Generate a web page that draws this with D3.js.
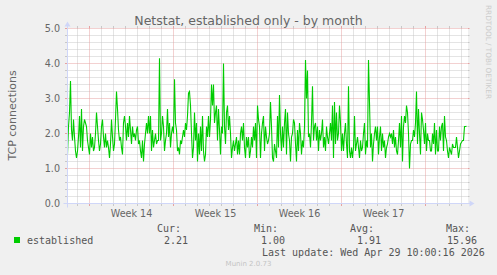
<!DOCTYPE html>
<html><head><meta charset="utf-8">
<script src="https://cdn.jsdelivr.net/npm/d3@7/dist/d3.min.js"></script>
<style>html,body{margin:0;padding:0;background:#f0f0f0;}svg{display:block;}</style>
</head><body><svg id="c" width="497" height="275"></svg>
<script>
// one value per 2 hours (one value per pixel in the original)
const established = [
1.4,2.2,2.6,3.5,2.1,1.8,2.4,1.9,1.5,1.3,
1.5,1.9,2.5,1.6,2.7,1.5,2.2,2.4,2.3,2.2,
1.8,1.6,1.4,2.0,1.6,1.9,1.5,1.6,2.0,2.6,
2.2,1.8,1.5,1.7,2.2,2.4,1.9,1.6,2.0,1.6,
1.8,1.6,1.3,1.7,2.4,1.9,1.5,1.7,2.4,3.2,
2.7,2.1,1.8,1.9,1.6,1.4,2.3,2.5,2.2,1.8,
2.3,1.9,2.5,2.1,1.7,2.2,1.9,
2.0,1.8,2.1,2.2,1.7,1.8,1.5,1.3,1.8,1.2,
1.7,2.0,2.3,2.0,2.5,2.0,2.5,1.5,2.1,1.6,
1.8,2.0,1.7,1.8,1.8,4.15,1.8,2.0,2.5,2.2,
1.5,1.8,2.0,2.7,1.9,2.3,1.6,2.0,2.2,2.0,
3.55,2.3,2.1,1.5,1.6,1.4,1.8,1.7,1.9,2.1,
1.9,2.3,2.1,2.5,3.15,3.2,2.8,2.0,1.3,1.6,
2.6,1.8,2.3,1.2,2.0,1.4,2.2,1.5,2.5,
1.5,1.2,1.4,2.2,1.9,2.5,1.9,2.4,3.4,2.8,
3.4,2.3,2.6,2.8,1.8,2.7,2.1,1.4,2.2,2.0,
4.0,2.2,1.7,2.6,2.8,2.1,2.5,2.0,1.3,1.6,
1.8,1.5,1.7,1.9,1.4,1.8,1.4,2.0,2.2,1.8,
2.3,1.6,1.3,1.9,1.6,1.9,1.3,1.5,1.9,1.6,
2.2,1.8,2.3,1.3,2.8,2.4,2.2,1.3,2.0,2.3,
2.5,1.5,2.2,1.9,1.7,1.8,2.0,2.9,2.2,
1.3,1.2,1.7,1.5,1.3,2.5,1.6,3.1,2.0,1.5,
2.2,1.6,2.3,2.7,1.4,2.6,2.0,1.8,1.2,1.9,
2.0,2.4,2.3,1.7,1.2,2.1,1.5,2.3,2.0,1.4,
1.8,1.6,2.2,4.1,3.0,3.8,1.9,2.0,1.6,2.3,
3.35,1.8,2.2,2.3,1.8,2.2,1.5,2.1,1.8,2.0,
2.4,1.6,1.9,1.5,2.2,1.9,1.7,2.0,2.3,1.8,
2.8,1.3,2.9,1.7,2.6,1.8,2.0,2.8,2.3,
1.5,2.0,1.5,2.0,2.3,1.7,1.3,3.35,1.5,1.3,
1.6,1.3,1.6,2.5,1.5,1.7,1.9,1.6,1.3,1.8,
1.5,1.6,2.0,2.3,1.4,1.8,1.6,4.1,2.9,1.6,
2.0,1.2,1.7,2.0,2.2,1.8,2.2,1.4,1.9,2.2,
1.5,2.0,1.6,1.8,1.3,1.6,1.7,1.9,2.0,1.9,
2.0,1.7,2.1,1.6,1.9,1.5,1.4,1.8,2.3,1.6,
2.5,1.2,2.2,2.5,2.3,2.8,2.6,2.0,1.0,
1.7,1.8,1.8,2.1,1.9,2.3,3.2,1.7,2.7,2.0,
1.4,2.6,2.4,2.1,1.7,2.3,1.5,2.0,1.8,1.8,
1.5,1.5,2.0,1.7,2.3,1.4,2.1,1.5,1.5,2.2,
1.8,2.2,2.3,1.5,2.5,1.9,1.8,1.5,1.3,1.6,
1.5,1.4,1.7,1.6,1.6,1.6,1.9,1.6,1.3,1.5,
1.7,1.75,1.8,1.8,2.2,2.2,2.21
];
const yTicks = [0, 1, 2, 3, 4, 5];
const yMinorStep = 0.2;
const seriesName = "established";
const legendHeaders = ["Cur:", "Min:", "Avg:", "Max:"];
const legendValues = ["2.21", "1.00", "1.91", "15.96"];
const titleText = "Netstat, established only - by month";
const yLabelText = "TCP connections";
const lastUpdateText = "Last update: Wed Apr 29 10:00:16 2026";
const watermarkText = "RRDTOOL / TOBI OETIKER";
const muninText = "Munin 2.0.73";
const startTime = Date.UTC(2026, 2, 28, 4, 0, 0);
const stepMs = 2 * 3600 * 1000;
const nSteps = 400;

const svg = d3.select("#c");
const W = 497, H = 275;
const L = 67.5, R = 467.5, T = 28.5, B = 203.5;
const FONT = "#666666";
const LEG = "#555555";
const sans = "'DejaVu Sans', sans-serif";
const mono = "'DejaVu Sans Mono', monospace";

const t0 = new Date(startTime), t1 = new Date(startTime + nSteps * stepMs);
const x = d3.scaleUtc().domain([t0, t1]).range([L, R]);
const y = d3.scaleLinear().domain([0, 5]).range([B, T]);

svg.append("rect").attr("width", W).attr("height", H).attr("fill", "#f0f0f0");
svg.append("rect").attr("x", 67).attr("y", 28).attr("width", 401).attr("height", 176).attr("fill", "#ffffff");

const gridMinor = "#c8c8c8", gridMajor = "#e6a2a2";
const g = svg.append("g");
// horizontal minor
const minorY = d3.range(0, 5 + 1e-9, yMinorStep).filter(v => Math.abs(v - Math.round(v)) > 1e-6);
minorY.forEach(v => {
  g.append("line").attr("x1", L).attr("x2", R).attr("y1", y(v)).attr("y2", y(v))
    .attr("stroke", gridMinor).attr("stroke-dasharray", "1,1");
  g.append("line").attr("x1", L - 2.5).attr("x2", L).attr("y1", y(v)).attr("y2", y(v)).attr("stroke", gridMinor);
  g.append("line").attr("x1", R).attr("x2", R + 2).attr("y1", y(v)).attr("y2", y(v)).attr("stroke", gridMinor);
});
// vertical minor (days)
const days = d3.utcDay.range(t0, t1).filter(d => d.getUTCDay() !== 1);
days.forEach(d => {
  const px = x(d);
  g.append("line").attr("x1", px).attr("x2", px).attr("y1", T).attr("y2", B)
    .attr("stroke", gridMinor).attr("stroke-dasharray", "1,1");
  g.append("line").attr("x1", px).attr("x2", px).attr("y1", B).attr("y2", B + 2.5).attr("stroke", gridMinor);
  g.append("line").attr("x1", px).attr("x2", px).attr("y1", T - 2.5).attr("y2", T).attr("stroke", gridMinor);
});
// horizontal major
yTicks.forEach(v => {
  g.append("line").attr("x1", L).attr("x2", R).attr("y1", y(v)).attr("y2", y(v))
    .attr("stroke", gridMajor).attr("stroke-dasharray", "1,1");
  g.append("line").attr("x1", L - 2.5).attr("x2", L).attr("y1", y(v)).attr("y2", y(v)).attr("stroke", gridMajor);
  g.append("line").attr("x1", R).attr("x2", R + 2).attr("y1", y(v)).attr("y2", y(v)).attr("stroke", gridMajor);
});
// vertical major (weeks)
const weeks = d3.utcMonday.range(t0, t1);
weeks.forEach(d => {
  const px = x(d);
  g.append("line").attr("x1", px).attr("x2", px).attr("y1", T).attr("y2", B)
    .attr("stroke", gridMajor).attr("stroke-dasharray", "1,1");
  g.append("line").attr("x1", px).attr("x2", px).attr("y1", B).attr("y2", B + 2.5).attr("stroke", gridMajor);
  g.append("line").attr("x1", px).attr("x2", px).attr("y1", T - 2.5).attr("y2", T).attr("stroke", gridMajor);
});

// data line
const line = d3.line()
  .x((d, i) => x(new Date(startTime + i * stepMs)))
  .y(d => y(d));
svg.append("path").datum(established).attr("d", line)
  .attr("fill", "none").attr("stroke", "#00cc00").attr("stroke-width", 1.1);

// axes
const AX = "#CFD6F8";
svg.append("line").attr("x1", L - 4).attr("x2", R + 4).attr("y1", B).attr("y2", B).attr("stroke", AX);
svg.append("line").attr("x1", L).attr("x2", L).attr("y1", B + 4).attr("y2", T - 4).attr("stroke", AX);
svg.append("path").attr("d", `M${R + 2},${B - 3}L${R + 2},${B + 3}L${R + 7},${B}Z`).attr("fill", AX);
svg.append("path").attr("d", `M${L - 3},${T - 2}L${L + 3},${T - 2}L${L},${T - 7}Z`).attr("fill", AX);

// y tick labels
yTicks.forEach(v => {
  svg.append("text").attr("x", 60).attr("y", y(v) + 3.5).attr("text-anchor", "end")
    .attr("font-family", sans).attr("font-size", "9.6px").attr("fill", FONT).text(d3.format(".1f")(v));
});
// x labels
const fmtWeek = d3.utcFormat("%V");
weeks.forEach(d => {
  const c = x(new Date(+d + 3.5 * 86400000));
  if (c > L && c < R - 2) {
    svg.append("text").attr("x", c).attr("y", 216.5).attr("text-anchor", "middle")
      .attr("font-family", sans).attr("font-size", "9.6px").attr("fill", FONT).text("Week " + (+fmtWeek(d)));
  }
});

// title
svg.append("text").attr("x", 248.5).attr("y", 24.5).attr("text-anchor", "middle")
  .attr("font-family", sans).attr("font-size", "12.5px").attr("fill", FONT).text(titleText);
// y label
svg.append("text").attr("transform", "translate(15.5,115.5) rotate(-90)").attr("text-anchor", "middle")
  .attr("font-family", sans).attr("font-size", "11px").attr("fill", FONT).text(yLabelText);
// watermark right
svg.append("text").attr("transform", "translate(485.5,5) rotate(90)").attr("text-anchor", "start")
  .attr("font-family", sans).attr("font-size", "7.3px").attr("fill", "#cccccc").text(watermarkText);

// legend
svg.append("rect").attr("x", 14).attr("y", 237).attr("width", 6).attr("height", 6).attr("fill", "#00cc00");
svg.append("text").attr("x", 27).attr("y", 243.5).attr("font-family", mono).attr("font-size", "10px")
  .attr("fill", LEG).text(seriesName);
const headerEnds = [181, 278, 374, 470];
const valueEnds = [188, 285, 381, 477];
legendHeaders.forEach((h, i) => {
  svg.append("text").attr("x", headerEnds[i]).attr("y", 231.5).attr("text-anchor", "end")
    .attr("font-family", mono).attr("font-size", "10px").attr("fill", LEG).text(h);
  svg.append("text").attr("x", valueEnds[i]).attr("y", 243.5).attr("text-anchor", "end")
    .attr("font-family", mono).attr("font-size", "10px").attr("fill", LEG).text(legendValues[i]);
});
svg.append("text").attr("x", 262).attr("y", 255.5).attr("font-family", mono).attr("font-size", "10px")
  .attr("fill", LEG).text(lastUpdateText);
svg.append("text").attr("x", 248.5).attr("y", 266).attr("text-anchor", "middle").attr("font-family", sans)
  .attr("font-size", "7px").attr("fill", "#c4c4c4").text(muninText);
</script></body></html>
